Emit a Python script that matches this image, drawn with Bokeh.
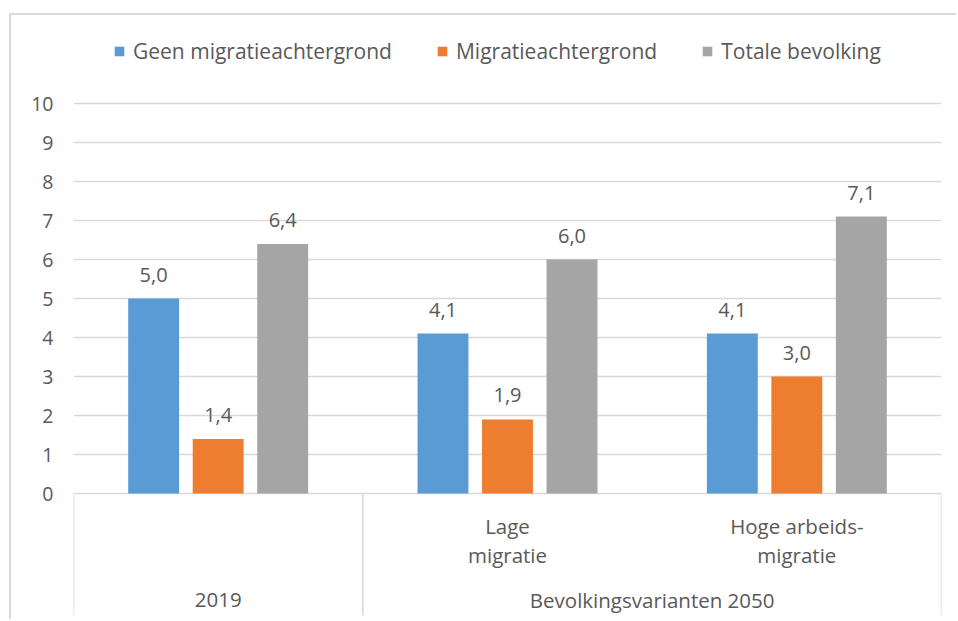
from bokeh.plotting import figure
from bokeh.models import ColumnDataSource, FixedTicker, LabelSet, Legend, LegendItem
from bokeh.core.properties import value
from bokeh.embed import file_html
from bokeh.resources import INLINE

# ---------------- data ----------------
categories = ["2019", "Lage migratie", "Hoge arbeidsmigratie"]
category_labels = ["", "Lage\nmigratie", "Hoge arbeids-\nmigratie"]
group_labels = ["2019", "Bevolkingsvarianten 2050"]
group_starts = [0, 1]
group_ends = [1, 3]
series_names = ["Geen migratieachtergrond", "Migratieachtergrond", "Totale bevolking"]
geen_migratie = [5.0, 4.1, 4.1]
met_migratie = [1.4, 1.9, 3.0]
totale_bevolking = [6.4, 6.0, 7.1]
y_ticks = [0, 1, 2, 3, 4, 5, 6, 7, 8, 9, 10]

# ---------------- style ----------------
FONT = "Open Sans"
TXT = "#595959"
GRID = "#d9d9d9"
colors = ["#5B9BD5", "#ED7D31", "#A5A5A5"]
offsets = [-0.223, 0.0, 0.223]
bar_width = 0.176
table_bottom = -3.13

p = figure(width=947, height=606, x_range=(0, len(categories)), y_range=(-3.282, 12.0),
           output_backend="svg", toolbar_location=None,
           min_border_left=62, min_border_right=17, min_border_top=10, min_border_bottom=0)
p.margin = (13, 0, 0, 9)
p.styles = {"border-top": "2px solid #d9d9d9", "border-left": "2px solid #d9d9d9"}
p.outline_line_color = None
p.background_fill_color = "white"
p.border_fill_color = "white"

p.xaxis.visible = False
p.xgrid.visible = False

p.yaxis.ticker = FixedTicker(ticks=y_ticks)
p.yaxis.axis_line_color = None
p.yaxis.major_tick_line_color = None
p.yaxis.major_tick_out = 0
p.yaxis.major_tick_in = 0
p.yaxis.minor_tick_line_color = None
p.yaxis.major_label_text_font = FONT
p.yaxis.major_label_text_font_size = "19.5px"
p.yaxis.major_label_text_color = TXT
p.yaxis.major_label_standoff = 20
p.ygrid.ticker = FixedTicker(ticks=y_ticks)
p.ygrid.grid_line_color = GRID
p.ygrid.grid_line_width = 1.6

# ---------------- bars ----------------
series_values = [geen_migratie, met_migratie, totale_bevolking]
items = []
for name, vals, col, off in zip(series_names, series_values, colors, offsets):
    src = ColumnDataSource(dict(
        x=[i + 0.5 + off for i in range(len(categories))],
        top=vals,
        lbl=[f"{v:.1f}".replace(".", ",") for v in vals],
    ))
    r = p.vbar(x="x", top="top", bottom=0, width=bar_width, source=src,
               fill_color=col, line_color=None)
    items.append(LegendItem(label=name, renderers=[r]))
    p.add_layout(LabelSet(x="x", y="top", text="lbl", source=src, y_offset=17,
                          text_align="center", text_baseline="alphabetic",
                          text_font=value(FONT), text_font_size="20px",
                          text_color=TXT))

# ---------------- category table ----------------
bounds = sorted(set(group_starts + group_ends))
p.segment(x0=bounds, y0=[0] * len(bounds), x1=bounds,
          y1=[table_bottom] * len(bounds), line_color=GRID, line_width=1.6)

p.text(x=[i + 0.5 for i in range(len(categories))], y=[-1.2] * len(categories),
       text=category_labels, text_align="center", text_baseline="middle",
       text_font=value(FONT), text_font_size="20.5px", text_color=TXT,
       text_line_height=1.05)
p.text(x=[(s + e) / 2 for s, e in zip(group_starts, group_ends)],
       y=[-2.74] * len(group_labels), text=group_labels,
       text_align="center", text_baseline="middle",
       text_font=value(FONT), text_font_size="20.5px", text_color=TXT)

# ---------------- legend ----------------
legend = Legend(items=items, orientation="horizontal", location=(40, 556),
                border_line_color=None, background_fill_alpha=0,
                glyph_width=12, glyph_height=12, label_standoff=8, spacing=44,
                label_text_font=FONT, label_text_font_size="21px",
                label_text_color=TXT, margin=0, padding=0)
p.add_layout(legend)

open("out.html", "w").write(file_html(p, INLINE))
